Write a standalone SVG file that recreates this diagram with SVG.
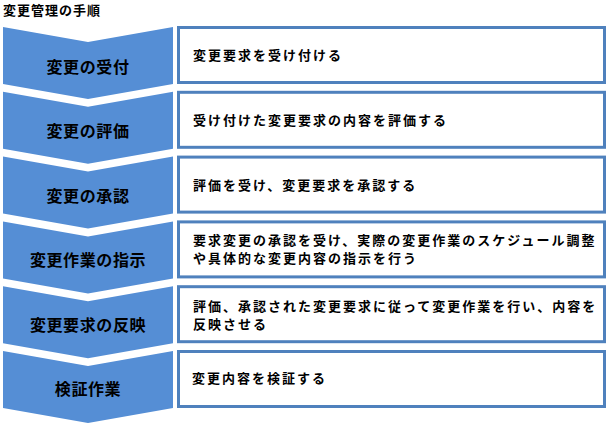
<svg xmlns="http://www.w3.org/2000/svg" width="611" height="427" viewBox="0 0 611 427">
<style>
.chev{fill:#558ED5;stroke:none}
.box{fill:#FFFFFF;stroke:#4F81BD;stroke-width:3}
.lbl{font-family:"Noto Sans CJK JP","Noto Sans CJK SC",sans-serif;font-size:16px;font-weight:bold;fill:#000;text-anchor:middle;letter-spacing:0.6px}
.desc{font-family:"Noto Sans CJK JP","Noto Sans CJK SC",sans-serif;font-size:13px;font-weight:bold;fill:#000;letter-spacing:2px}
.title{font-family:"Noto Sans CJK JP","Noto Sans CJK SC",sans-serif;font-size:13px;font-weight:bold;fill:#000;letter-spacing:1px}
</style>
<rect width="611" height="427" fill="#FFFFFF"/>
<text class="title" x="3" y="15">変更管理の手順</text>
<g id="connectors"></g>
<g id="step1">
<path class="chev" d="M3,27 L88,42 L173,27 L173,84 L88,99 L3,84 Z"/>
<text class="lbl" x="88" y="73">変更の受付</text>
<rect class="box" x="178.5" y="27.5" width="426" height="55"/>
<text class="desc" x="193" y="60">変更要求を受け付ける</text>
</g>
<g id="step2">
<path class="chev" d="M3,91.8 L88,106.8 L173,91.8 L173,148.8 L88,163.8 L3,148.8 Z"/>
<text class="lbl" x="88" y="137">変更の評価</text>
<rect class="box" x="178.5" y="92.3" width="426" height="55"/>
<text class="desc" x="193" y="125">受け付けた変更要求の内容を評価する</text>
</g>
<g id="step3">
<path class="chev" d="M3,156.6 L88,171.6 L173,156.6 L173,213.6 L88,228.6 L3,213.6 Z"/>
<text class="lbl" x="88" y="202">変更の承認</text>
<rect class="box" x="178.5" y="157.1" width="426" height="55"/>
<text class="desc" x="193" y="190">評価を受け、変更要求を承認する</text>
</g>
<g id="step4">
<path class="chev" d="M3,221.4 L88,236.4 L173,221.4 L173,278.4 L88,293.4 L3,278.4 Z"/>
<text class="lbl" x="88" y="266">変更作業の指示</text>
<rect class="box" x="178.5" y="221.9" width="426" height="55"/>
<text class="desc" x="193" y="245">要求変更の承認を受け、実際の変更作業のスケジュール調整</text>
<text class="desc" x="193" y="263">や具体的な変更内容の指示を行う</text>
</g>
<g id="step5">
<path class="chev" d="M3,286.2 L88,301.2 L173,286.2 L173,343.2 L88,358.2 L3,343.2 Z"/>
<text class="lbl" x="88" y="331">変更要求の反映</text>
<rect class="box" x="178.5" y="286.7" width="426" height="55"/>
<text class="desc" x="193" y="311">評価、承認された変更要求に従って変更作業を行い、内容を</text>
<text class="desc" x="193" y="329">反映させる</text>
</g>
<g id="step6">
<path class="chev" d="M3,351 L88,366 L173,351 L173,408 L88,423 L3,408 Z"/>
<text class="lbl" x="88" y="395">検証作業</text>
<rect class="box" x="178.5" y="351.5" width="426" height="55"/>
<text class="desc" x="192" y="383">変更内容を検証する</text>
</g>
</svg>
